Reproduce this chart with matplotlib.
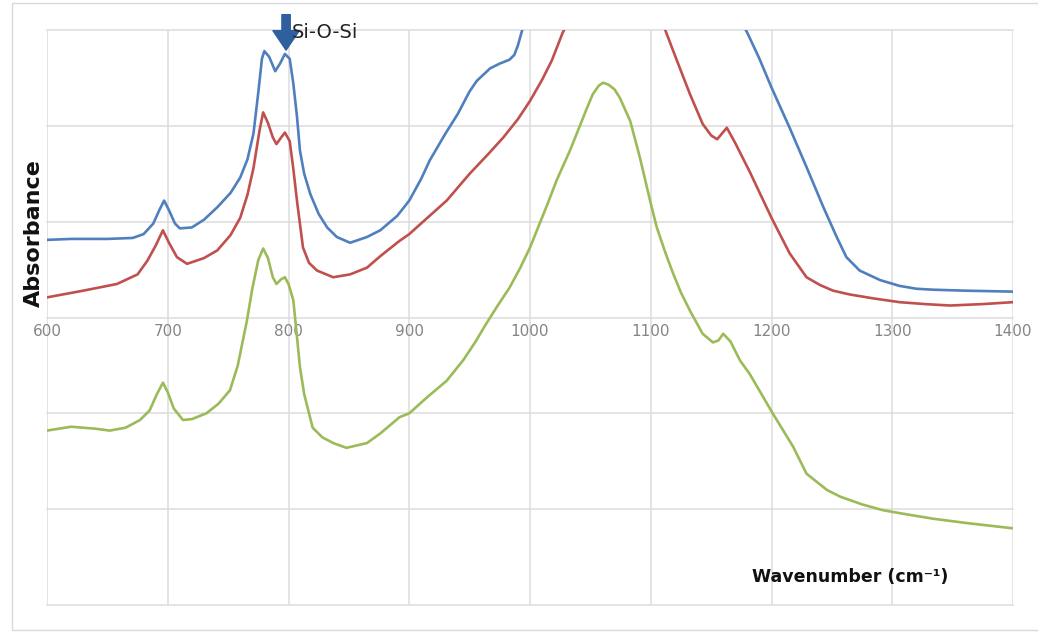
import matplotlib
matplotlib.use("Agg")
import matplotlib.pyplot as plt
from matplotlib.patches import Rectangle

# --- data (wavenumber cm-1, absorbance in grid units) ---
blue_wn = [600, 620, 650, 671, 680, 688, 693, 697, 701, 706, 710, 720, 730, 741, 752,
           760, 766, 771, 775, 778, 780, 784, 789, 793, 797, 801, 804, 807, 809.5, 813,
           818, 825, 832, 840, 851, 865, 876, 890, 900, 910, 917, 930, 940, 950, 956, 967,
           975, 983, 987, 990, 994, 1000, 1030, 1060, 1100, 1150, 1170, 1180, 1190, 1200,
           1215, 1229, 1243, 1254, 1262, 1273, 1290, 1306, 1320, 1334, 1360, 1400]
blue_abs = [0.81, 0.82, 0.82, 0.83, 0.87, 0.98, 1.12, 1.22, 1.12, 0.98, 0.93, 0.94, 1.02, 1.15, 1.30,
            1.46, 1.65, 1.92, 2.35, 2.70, 2.78, 2.72, 2.57, 2.65, 2.75, 2.70, 2.44, 2.10, 1.74, 1.50,
            1.29, 1.08, 0.94, 0.84, 0.78, 0.84, 0.91, 1.06, 1.22, 1.45, 1.64, 1.92, 2.12, 2.36, 2.47, 2.60,
            2.65, 2.69, 2.74, 2.84, 3.02, 3.40, 4.20, 4.60, 4.40, 3.60, 3.20, 2.97, 2.70, 2.40,
            1.98, 1.57, 1.15, 0.84, 0.63, 0.49, 0.39, 0.33, 0.30, 0.29, 0.28, 0.27]

red_wn = [600, 630, 658, 675, 683, 690, 696, 701, 707.6, 716, 730, 741, 752, 760, 766,
          771, 776, 779, 783, 787, 790, 794, 797, 801, 804, 807, 812, 817, 823.6, 837,
          851, 865, 876, 892, 900, 915, 931, 950, 965, 978, 990, 1000, 1010, 1018, 1027, 1040,
          1070, 1100, 1112, 1121.7, 1132.5, 1143, 1150, 1155, 1159, 1163, 1170, 1182, 1200,
          1215, 1229, 1240, 1251, 1265, 1284, 1306, 1327, 1348, 1375, 1400]
red_abs = [0.21, 0.28, 0.35, 0.45, 0.59, 0.75, 0.91, 0.78, 0.63, 0.56, 0.62, 0.70, 0.86, 1.04, 1.28,
           1.56, 1.95, 2.14, 2.03, 1.88, 1.81, 1.88, 1.93, 1.84, 1.55, 1.22, 0.73, 0.57, 0.49, 0.42,
           0.45, 0.52, 0.64, 0.80, 0.87, 1.04, 1.22, 1.50, 1.70, 1.88, 2.07, 2.26, 2.48, 2.68, 2.97, 3.30,
           3.60, 3.30, 3.00, 2.68, 2.33, 2.02, 1.90, 1.86, 1.92, 1.98, 1.82, 1.52, 1.04,
           0.67, 0.42, 0.34, 0.28, 0.24, 0.20, 0.16, 0.14, 0.125, 0.14, 0.16]

green_wn = [600, 620, 640, 652, 665, 677, 685, 691, 696, 700, 705, 712.6, 720, 732, 742,
            751.5, 758, 765.6, 770, 775, 779, 783, 787, 790, 794, 797, 800, 804, 807, 809.5,
            813, 820, 828, 837, 848, 865, 876, 892, 900, 915, 931, 945, 955, 963, 973, 983,
            992, 1000, 1008, 1015, 1022, 1033, 1041, 1047, 1052, 1057, 1060.5, 1065, 1070, 1074.5,
            1083, 1091, 1100, 1105, 1112, 1118.5, 1125, 1132.5, 1143, 1151.5, 1156, 1160, 1166,
            1174, 1182, 1201, 1218, 1229, 1246, 1257, 1275, 1292, 1310, 1334, 1365, 1400]
green_abs = [-1.18, -1.14, -1.16, -1.18, -1.15, -1.07, -0.97, -0.80, -0.68, -0.78, -0.95, -1.07, -1.06, -1.00, -0.90,
             -0.76, -0.50, -0.03, 0.30, 0.60, 0.72, 0.62, 0.42, 0.35, 0.40, 0.42, 0.35, 0.18, -0.20, -0.52,
             -0.80, -1.15, -1.25, -1.31, -1.36, -1.31, -1.21, -1.04, -1.00, -0.83, -0.66, -0.44, -0.25, -0.08, 0.12, 0.31,
             0.52, 0.73, 0.98, 1.20, 1.43, 1.74, 1.99, 2.18, 2.33, 2.42, 2.45, 2.43, 2.38, 2.29,
             2.05, 1.67, 1.19, 0.94, 0.68, 0.46, 0.26, 0.07, -0.17, -0.26, -0.24, -0.17, -0.25,
             -0.45, -0.59, -1.00, -1.35, -1.63, -1.80, -1.87, -1.95, -2.01, -2.05, -2.10, -2.15, -2.20]

x_ticks = [600, 700, 800, 900, 1000, 1100, 1200, 1300, 1400]
y_grid = [-3, -2, -1, 0, 1, 2, 3]

fig = plt.figure(figsize=(10.38, 6.32), dpi=100)
ax = fig.add_axes([47 / 1038, 1 - 605 / 632, (1013 - 47) / 1038, (605 - 30) / 632])

line_kw = dict(lw=1.9, solid_joinstyle='round', solid_capstyle='round')
ax.plot(blue_wn, blue_abs, color='#4f7fbd', **line_kw)
ax.plot(red_wn, red_abs, color='#c0504d', **line_kw)
ax.plot(green_wn, green_abs, color='#9bbb59', **line_kw)

ax.set_xlim(600, 1400)
ax.set_ylim(-3, 3)
ax.set_xticks(x_ticks)
ax.set_yticks(y_grid)
ax.set_yticklabels([])
ax.grid(True, color='#dcdcdc', lw=1.1)
ax.set_axisbelow(True)
for gl in ax.get_xgridlines() + ax.get_ygridlines():
    gl.set_clip_on(False)

for side in ['top', 'right', 'left']:
    ax.spines[side].set_visible(False)
ax.spines['bottom'].set_position(('data', 0))
ax.spines['bottom'].set_color('none')
ax.tick_params(axis='both', length=0)
ax.tick_params(axis='x', pad=5, labelsize=11, labelcolor='#858585')

# Si-O-Si marker
ax.annotate('', xy=(798, 2.79), xytext=(798, 3.16), annotation_clip=False,
            arrowprops=dict(arrowstyle='simple,head_length=0.7,head_width=0.95,tail_width=0.3',
                            color='#2e5f9e', shrinkA=0, shrinkB=0, mutation_scale=20))
ax.text(803, 2.97, 'Si-O-Si', fontsize=14, color='#222222', va='center', ha='left', clip_on=False)

ax.text(1265, -2.71, 'Wavenumber (cm⁻¹)', fontsize=12.5, fontweight='bold',
        ha='center', va='center', color='#111111')
fig.text(34 / 1038, 1 - 233 / 632, 'Absorbance', rotation=90, fontsize=16,
         fontweight='bold', ha='center', va='center', color='#111111')

fig.patches.append(Rectangle((12 / 1038, 1 - 630 / 632), 1.1, (630 - 3) / 632,
                             transform=fig.transFigure, fill=False,
                             edgecolor='#d9d9d9', lw=1))

fig.savefig('out.png', dpi=100)
